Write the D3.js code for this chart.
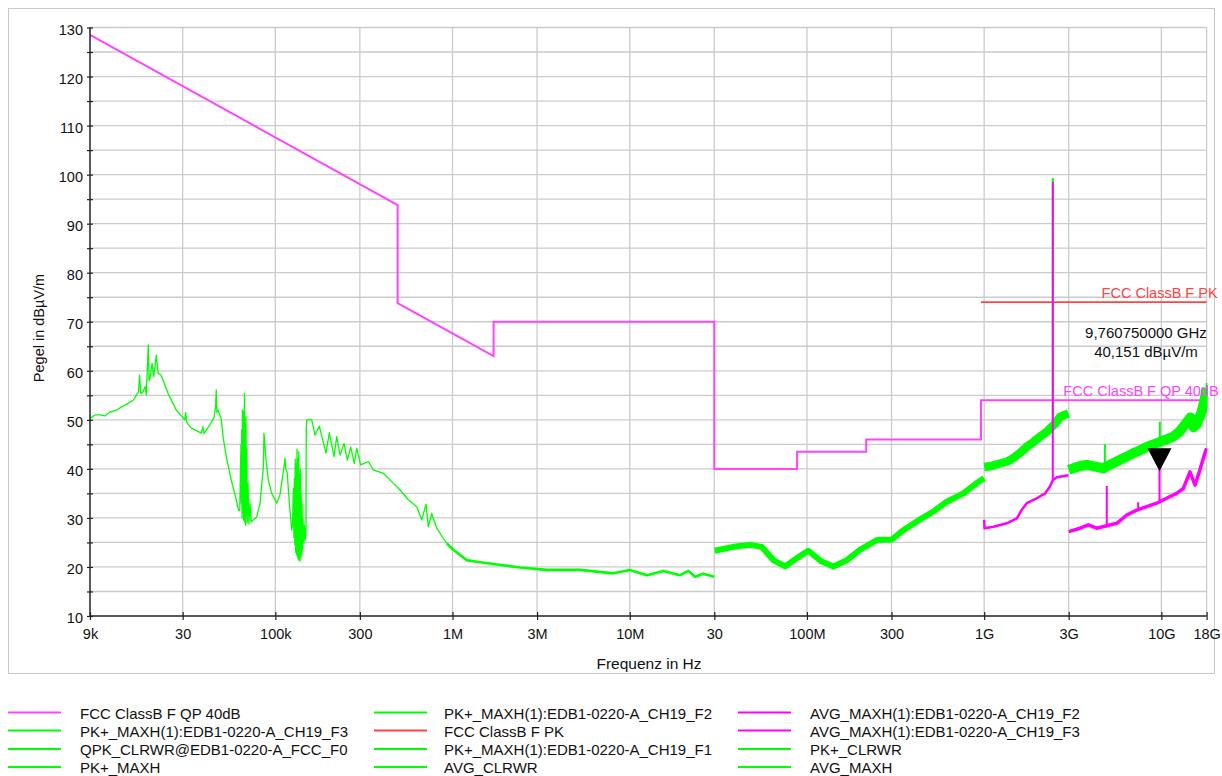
<!DOCTYPE html>
<html><head><meta charset="utf-8">
<script src="https://cdn.jsdelivr.net/npm/d3@7/dist/d3.min.js"></script>
<style>
html,body{margin:0;padding:0;background:#fff;}
svg{display:block;font-family:"Liberation Sans",Arial,sans-serif;}
</style></head><body>
<svg id="chart" width="1222" height="776"></svg>
<script>
// ---------------- DATA ----------------
const xTickValues = [9e3, 3e4, 1e5, 3e5, 1e6, 3e6, 1e7, 3e7, 1e8, 3e8, 1e9, 3e9, 1e10, 1.8e10];
const xTickLabels = ["9k", "30", "100k", "300", "1M", "3M", "10M", "30", "100M", "300", "1G", "3G", "10G", "18G"];
const yTickValues = [10, 15, 20, 25, 30, 35, 40, 45, 50, 55, 60, 65, 70, 75, 80, 85, 90, 95, 100, 105, 110, 115, 120, 125, 130];
const yTickLabels = [10, 20, 30, 40, 50, 60, 70, 80, 90, 100, 110, 120, 130];

// FCC ClassB F QP 40dB limit  [Hz, dBµV/m]
const limitQP = [[9e3,128.5],[490e3,93.8],[490e3,73.8],[1.705e6,63.0],[1.705e6,70],[30e6,70],[30e6,40],
  [88e6,40],[88e6,43.5],[216e6,43.5],[216e6,46],[960e6,46],[960e6,54],[18e9,54]];
// FCC ClassB F PK limit
const limitPK = [[960e6,74],[18e9,74]];

// PK+ trace 9 kHz - 30 MHz
const pkLow = [[9e3,50.3],[9.6e3,51.0],[10.25e3,51.0],[10.9e3,50.8],[11.67e3,51.6],[12.74e3,52.0],[13.5e3,52.6],
  [14.18e3,53.0],[15.0e3,53.5],[15.8e3,54.0],[16.4e3,55.0],[16.9e3,55.7],[17.15e3,59.1],[17.4e3,55.4],[17.9e3,55.7],
  [18.46e3,56.8],[18.7e3,55.1],[19.2e3,65.3],[19.4e3,58.0],[19.55e3,58.1],[20.15e3,61.5],[20.6e3,58.8],[21.3e3,63.2],
  [21.8e3,59.5],[22.7e3,59.1],[24.8e3,55.4],[27.6e3,52.0],[29.8e3,50.6],[30.8e3,50.0],[31.2e3,51.5],[31.6e3,49.5],
  [33.6e3,48.3],[38.2e3,47.3],[39e3,48.6],[39.6e3,47.2],[42.6e3,48.9],[45.1e3,50.5],[46e3,52.5],[46.4e3,56.1],
  [46.8e3,51.5],[47.5e3,52.0],[49.6e3,50.0],[50.7e3,46.6],[52.9e3,42.5],[56.4e3,37.7],[60.2e3,33.7],[62e3,31.5],
  [63e3,31.6],[64e3,45.0],[64.3e3,33],[64.6e3,48],[64.9e3,30.0],[65.2e3,52],[65.6e3,31],[65.9e3,51.7],[66.3e3,29.5],
  [66.7e3,50],[67.0e3,55.4],[67.3e3,29],[67.7e3,49],[68.0e3,28.5],[68.3e3,50.6],[68.7e3,31],[69e3,44],[69.4e3,29.0],
  [70.1e3,37.1],[71e3,28.8],[72e3,33.0],[73.2e3,29.2],[75.2e3,29.6],[78.5e3,30.2],[82e3,33.0],
  [85.6e3,40.4],[86.3e3,47.3],[88.6e3,41.8],[91.3e3,37.7],[95.4e3,35.0],[101.8e3,33.0],[106.3e3,34.7],[108.6e3,37.1],
  [112.4e3,40.8],[113.4e3,42.2],[114.5e3,40.0],[116.8e3,39.1],[120e3,33.0],[123.8e3,27.5],[125e3,28.5],[126.5e3,36],
  [127.3e3,26],[128e3,38],[128.8e3,24.5],[129.5e3,42],[130.3e3,23],[131e3,41],[131.8e3,22.5],[132.5e3,44],[133.3e3,22],
  [134e3,42],[134.8e3,21.5],[135.5e3,43.5],[136.3e3,21.3],[137e3,39],[137.8e3,21.2],[138.5e3,40],[139.3e3,22],[140e3,35],
  [140.8e3,22.5],[141.5e3,33],[142.3e3,23.5],[143e3,30],[144.5e3,25],[146e3,28.5],[147.5e3,25.5],[149e3,28],
  [149.5e3,48],[150.4e3,50.0],[157e3,50.1],
  [160.5e3,50.0],[167.5e3,46.9],[177.1e3,48.7],[193.2e3,43.2],[201.7e3,47.4],[214.4e3,42.5],[222.1e3,46.6],
  [231.8e3,42.8],[244.2e3,45.2],[254.8e3,41.8],[266.3e3,44.5],[279e3,41.1],[288e3,44.2],[303e3,40.8],[335e3,41.5],
  [357e3,39.8],[407e3,39.1],[463e3,37.1],[506e3,35.7],[563e3,33.7],[628e3,32.3],[670e3,29.6],[709e3,32.8],
  [730e3,28.2],[763e3,30.9],[815e3,27.9],[887e3,25.8],[928e3,24.8],[1.01e6,23.5],[1.2e6,21.4],[1.4e6,21.0],
  [1.78e6,20.5],[2.4e6,19.9],[3.4e6,19.4],[5.24e6,19.4],[8.08e6,18.7],[10.0e6,19.4],[12.5e6,18.3],[15.5e6,19.2],
  [19.2e6,18.3],[21.4e6,19.2],[23.4e6,18.0],[26.0e6,18.6],[29.9e6,18.0]];

// PK+ trace 30 MHz - 1 GHz
const pk30M1G = [[30.1e6,23.3],[38.4e6,24.1],[47.7e6,24.5],[55.6e6,24.1],[64.6e6,21.4],[75.2e6,20.1],[87.6e6,21.8],
  [101.8e6,23.3],[121e6,21.1],[141e6,20.1],[168e6,21.4],[199e6,23.5],[248e6,25.5],[301e6,25.6],[350e6,27.5],
  [435e6,29.7],[517e6,31.3],[615e6,33.3],[763e6,35.0],[908e6,37.1],[0.999e9,38.1]];

// PK+ trace 1 - 3 GHz
const pk1G3G = [[1.0e9,40.4],[1.1e9,40.6],[1.23e9,41.1],[1.35e9,41.5],[1.46e9,42.2],[1.6e9,43.3],[1.74e9,44.5],
  [1.9e9,45.5],[2.07e9,46.6],[2.25e9,47.5],[2.41e9,48.6],[2.55e9,49.5],[2.68e9,50.6],[2.85e9,51.0],[2.99e9,51.3]];

// PK+ trace 3 - 18 GHz
const pk3G18G = [[3.0e9,39.8],[3.4e9,40.5],[3.79e9,40.8],[4.2e9,40.5],[4.71e9,40.1],[5.1e9,40.8],[5.6e9,41.5],
  [6.3e9,42.4],[6.95e9,43.2],[7.6e9,43.8],[8.27e9,44.5],[9.0e9,45.0],[9.83e9,45.5],[10.7e9,46.0],[11.69e9,46.6],
  [12.6e9,47.5],[13.9e9,49.5],[14.6e9,50.5],[15.2e9,48.5],[15.8e9,49.0],[16.9e9,51.7],[17.5e9,54.0],[18e9,56.5]];

// PK+ narrow spikes [Hz, base, peak]
const pkSpikes = [[2.44e9,48.8,99.3],[4.8e9,40.3,45.0],[9.8e9,45.5,49.6],[18e9,54,57.5]];

// AVG traces
const avg1G3G = [[1.0e9,29.6],[1.005e9,27.9],[1.13e9,28.2],[1.34e9,28.9],[1.53e9,29.9],[1.62e9,31.5],[1.74e9,33.0],
  [1.98e9,34.0],[2.21e9,35.0],[2.35e9,36.4],[2.44e9,37.7],[2.57e9,38.3],[2.99e9,38.7]];
const avg3G18G = [[3.0e9,27.2],[3.48e9,27.9],[3.87e9,28.6],[4.32e9,27.9],[4.92e9,28.4],[5.6e9,28.9],[6.38e9,30.6],
  [7.26e9,31.6],[8.27e9,32.3],[9.42e9,33.0],[10.7e9,34.0],[12.2e9,35.0],[13.3e9,36.0],[14.5e9,39.4],[15.5e9,36.7],
  [16.5e9,39.8],[17.6e9,43.2],[18e9,44.2]];
const avgSpikes = [[2.44e9,37.7,98.5],[4.92e9,28.4,36.5],[7.4e9,31.6,33.2],[9.76e9,33.0,40.15]];

// marker
const markerFreq = 9.76075e9;
const markerLevel = 40.151;
const markerText = ["9,760750000 GHz", "40,151 dBµV/m"];

const legendNames = ["FCC ClassB F QP 40dB", "PK+_MAXH(1):EDB1-0220-A_CH19_F2", "AVG_MAXH(1):EDB1-0220-A_CH19_F2",
  "PK+_MAXH(1):EDB1-0220-A_CH19_F3", "FCC ClassB F PK", "AVG_MAXH(1):EDB1-0220-A_CH19_F3",
  "QPK_CLRWR@EDB1-0220-A_FCC_F0", "PK+_MAXH(1):EDB1-0220-A_CH19_F1", "PK+_CLRWR",
  "PK+_MAXH", "AVG_CLRWR", "AVG_MAXH"];

// ---------------- STYLE ----------------
const C_LIM = "#ff44ff", C_AVG = "#ff00ff", C_PK = "#00ff00", C_RED = "#ff4444", C_GRID = "#cbcbcb";
const legendColors = [C_LIM, C_PK, C_AVG, C_PK, C_RED, C_AVG, C_PK, C_PK, C_PK, C_PK, C_PK, C_PK];

const W = 1222, H = 776;
const L = 90, R = 1206.6, T = 27.5, B = 616;
const x = d3.scaleLog().domain([9e3, 18e9]).range([L, R]);
const y = d3.scaleLinear().domain([10, 130]).range([B, T]);
const line = d3.line().x(d => x(d[0])).y(d => y(d[1]));

const svg = d3.select("#chart");
svg.append("rect").attr("width", W).attr("height", H).attr("fill", "#fff");
svg.append("rect").attr("x", 8.5).attr("y", 8.5).attr("width", 1206).attr("height", 665)
  .attr("fill", "none").attr("stroke", "#c8c8c8").attr("stroke-width", 1);

// grid
const grid = svg.append("g");
grid.selectAll("line.h").data(yTickValues.filter(v => v !== 10)).join("line")
  .attr("x1", L).attr("x2", R).attr("y1", d => y(d)).attr("y2", d => y(d))
  .attr("stroke", C_GRID).attr("stroke-width", 1.3);
grid.selectAll("line.v").data(xTickValues.slice(1)).join("line")
  .attr("x1", d => x(d)).attr("x2", d => x(d)).attr("y1", T).attr("y2", B)
  .attr("stroke", C_GRID).attr("stroke-width", 1.3);

// clip
svg.append("clipPath").attr("id", "clip").append("rect")
  .attr("x", L).attr("y", T - 2).attr("width", R - L + 1).attr("height", B - T + 2);
const plot = svg.append("g").attr("clip-path", "url(#clip)");

function path(data, color, width, join) {
  plot.append("path").datum(data).attr("d", line).attr("fill", "none")
    .attr("stroke", color).attr("stroke-width", width).attr("stroke-linejoin", join || "round");
}
function spikes(data, color, width) {
  data.forEach(s => path([[s[0], s[1]], [s[0], s[2]]], color, width));
}

path(limitQP, C_LIM, 2, "miter");
path(limitPK, C_RED, 1.6);
path(pkLow.filter(d => d[0] <= 1e6), C_PK, 1.3);
path(pkLow.filter(d => d[0] >= 0.9e6), C_PK, 2.6);
path(pk30M1G, C_PK, 6);
path(pk1G3G, C_PK, 8.5);
path(pk3G18G, C_PK, 10);
spikes(pkSpikes, C_PK, 2);
path(avg1G3G, C_AVG, 2.5);
path(avg3G18G, C_AVG, 3.5);
spikes(avgSpikes, C_AVG, 2);

// limit labels
svg.append("text").attr("x", R + 11).attr("y", y(74) - 4).attr("text-anchor", "end")
  .attr("font-size", 14.5).attr("fill", C_RED).text("FCC ClassB F PK");
svg.append("text").attr("x", R + 12).attr("y", y(54) - 4).attr("text-anchor", "end")
  .attr("font-size", 14.5).attr("fill", C_LIM).text("FCC ClassB F QP 40dB");

// marker
const mx = x(markerFreq), my = y(markerLevel) + 3;
svg.append("path").attr("d", `M${mx},${my}L${mx - 12},${my - 23}L${mx + 12},${my - 23}Z`).attr("fill", "#000");
svg.selectAll("text.mk").data(markerText).join("text").attr("class", "mk")
  .attr("x", 1146).attr("y", (d, i) => 338 + i * 19).attr("text-anchor", "middle")
  .attr("font-size", 15).attr("fill", "#111").text(d => d);

// axes
const yAxis = d3.axisLeft(y).tickValues(yTickValues)
  .tickFormat(d => yTickLabels.includes(d) ? d : "").tickSize(3).tickPadding(4);
const gy = svg.append("g").attr("transform", `translate(${L},0)`).call(yAxis);
gy.select(".domain").remove();
gy.selectAll(".tick line").attr("x1", 3).attr("stroke", "#222").attr("stroke-width", 1.2);
gy.selectAll(".tick text").attr("dy", 6.5).attr("font-size", 14.5).attr("fill", "#111").attr("font-family", null);
svg.append("line").attr("x1", L).attr("x2", L).attr("y1", T).attr("y2", B).attr("stroke", "#222").attr("stroke-width", 1.5);

const xAxis = d3.axisBottom(x).tickValues(xTickValues)
  .tickFormat((d, i) => xTickLabels[i]).tickSize(4);
const gx = svg.append("g").attr("transform", `translate(0,${B})`).call(xAxis);
gx.select(".domain").remove();
gx.selectAll(".tick line").attr("y1", -4).attr("stroke", "#222").attr("stroke-width", 1.2);
gx.selectAll(".tick text").attr("y", 23).attr("dy", 0).attr("font-size", 14.5).attr("fill", "#111").attr("font-family", null);
svg.append("line").attr("x1", L).attr("x2", R).attr("y1", B).attr("y2", B).attr("stroke", "#222").attr("stroke-width", 1.5);

// axis titles
svg.append("text").attr("transform", `translate(44,328) rotate(-90)`).attr("text-anchor", "middle")
  .attr("font-size", 14.5).attr("fill", "#111").text("Pegel in dBµV/m");
svg.append("text").attr("x", 649).attr("y", 669).attr("text-anchor", "middle")
  .attr("font-size", 15.5).attr("fill", "#111").text("Frequenz in Hz");

// legend
const colLineX = [8, 374, 738], colTextX = [80, 444, 810];
const rowY = [712.5, 730.5, 749, 767];
const lg = svg.append("g");
legendNames.forEach((n, i) => {
  const c = i % 3, r = Math.floor(i / 3);
  lg.append("line").attr("x1", colLineX[c]).attr("x2", colLineX[c] + 53).attr("y1", rowY[r]).attr("y2", rowY[r])
    .attr("stroke", legendColors[i]).attr("stroke-width", 2);
  lg.append("text").attr("x", colTextX[c]).attr("y", rowY[r] + 6).attr("font-size", 15).attr("fill", "#111").text(n);
});
</script>
</body></html>
